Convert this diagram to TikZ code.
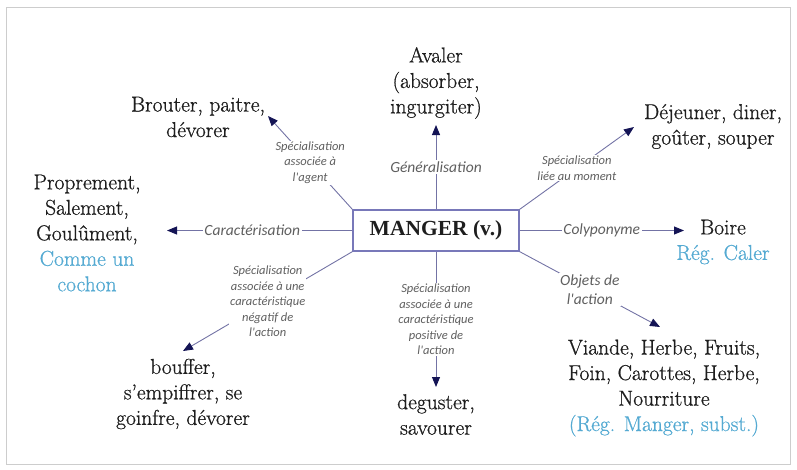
\documentclass[tikz,border=0pt]{standalone}
\usepackage{fontspec}
\setmainfont{Latin Modern Roman}[FakeBold=0.8]
\newfontfamily\mangerfont{Liberation Serif}
\newfontfamily\lblfont{Carlito}
\usetikzlibrary{arrows.meta}
\definecolor{txt}{RGB}{30,30,30}
\definecolor{blu}{RGB}{85,170,210}
\definecolor{edgec}{RGB}{115,115,165}
\definecolor{headc}{RGB}{20,20,85}
\definecolor{lblc}{RGB}{95,95,95}
\definecolor{framec}{RGB}{205,205,205}
\definecolor{boxc}{RGB}{120,120,185}
\begin{document}
\begin{tikzpicture}[x=1pt,y=-1pt,
  word/.style={font=\rmfamily\fontsize{21.5}{25.5}\selectfont, text=txt, align=center, inner sep=0pt},
  rel/.style={font=\lblfont\itshape\fontsize{15.5}{19}\selectfont, text=lblc, fill=white, inner sep=1.5pt, align=center},
  spec/.style={font=\lblfont\itshape\fontsize{12.5}{15.5}\selectfont, text=lblc, fill=white, inner sep=1pt, align=center},
  arr/.style={draw=edgec, line width=0.9pt, -{Triangle[length=10pt,width=8pt,color=headc]}},
  mainbox/.style={draw=boxc, line width=1.2pt, minimum width=166pt, minimum height=41pt, inner sep=0pt,
    font=\mangerfont\bfseries\fontsize{21.5}{25.5}\selectfont, text=txt}]
\useasboundingbox (0,0) rectangle (797,469);
\draw[framec, line width=1pt] (6,7) rectangle (790,464);

\node[mainbox] (m) at (436,230.5) {MANGER (v.)};

\node[word] (brouter) at (198,117) {Brouter, paitre,\\dévorer};
\node[word] (avaler) at (436,83) {Avaler\\(absorber,\\ingurgiter)};
\node[word] (dejeuner) at (713,126.5) {Déjeuner, diner,\\goûter, souper};
\node[word] (proprement) at (87,233) {Proprement,\\Salement,\\Goulûment,\\{\color{blu}Comme un}\\{\color{blu}cochon}};
\node[word] (boire) at (723,242) {Boire\\{\color{blu}Rég. Caler}};
\node[word] (viande) at (664,388) {Viande, Herbe, Fruits,\\Foin, Carottes, Herbe,\\Nourriture\\{\color{blu}(Rég. Manger, subst.)}};
\node[word] (deguster) at (436,414.5) {deguster,\\savourer};
\node[word] (bouffer) at (183,394) {bouffer,\\s'empiffrer, se\\goinfre, dévorer};

\coordinate (tA) at (268,116);
\coordinate (tB) at (634,127);
\coordinate (tC) at (183,351);
\coordinate (tD) at (436,387);
\coordinate (tE) at (660,327);
\coordinate (tF) at (436,125);
\coordinate (tG) at (167,230.5);
\coordinate (tH) at (684,230.5);

\draw[arr] (m.north west) -- node[spec]{Spécialisation\\associée à\\l'agent} (tA);
\draw[arr] (m.north east) -- node[spec]{Spécialisation\\liée au moment} (tB);
\draw[arr] (m.south west) -- node[spec]{Spécialisation\\associée à une\\caractéristique\\négatif de\\l'action} (tC);
\draw[arr] (m.south) -- node[spec]{Spécialisation\\associée à une\\caractéristique\\positive de\\l'action} (tD);
\draw[arr] (m.south east) -- node[rel]{Objets de\\l'action} (tE);
\draw[arr] (m.north) -- node[rel]{Généralisation} (tF);
\draw[arr] (m.west) -- node[rel, pos=0.54]{Caractérisation} (tG);
\draw[arr] (m.east) -- node[rel]{Colyponyme} (tH);
\end{tikzpicture}
\end{document}
